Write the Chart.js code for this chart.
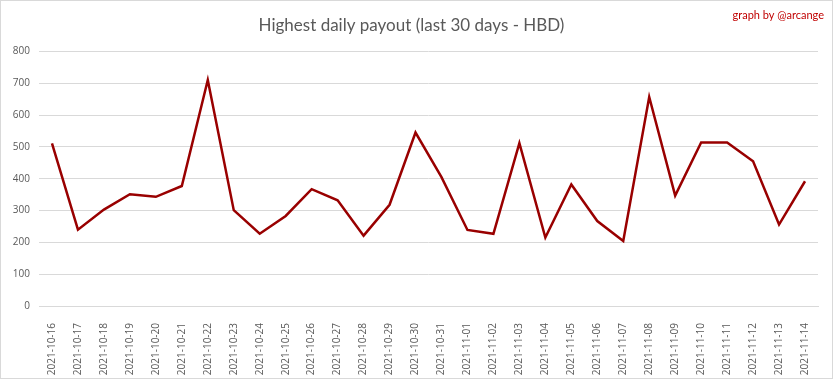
<!DOCTYPE html>
<html>
<head>
<meta charset="utf-8">
<script src="https://cdn.jsdelivr.net/npm/chart.js@4"></script>
<style>
  html, body { margin: 0; padding: 0; background: #fff; }
  #wrap { width: 833px; height: 379px; box-sizing: border-box; border: 1px solid #d9d9d9; position: relative; }
</style>
</head>
<body>
<div id="wrap"><canvas id="myChart"></canvas></div>
<script>
const dates = [
  "2021-10-16", "2021-10-17", "2021-10-18", "2021-10-19", "2021-10-20",
  "2021-10-21", "2021-10-22", "2021-10-23", "2021-10-24", "2021-10-25",
  "2021-10-26", "2021-10-27", "2021-10-28", "2021-10-29", "2021-10-30",
  "2021-10-31", "2021-11-01", "2021-11-02", "2021-11-03", "2021-11-04",
  "2021-11-05", "2021-11-06", "2021-11-07", "2021-11-08", "2021-11-09",
  "2021-11-10", "2021-11-11", "2021-11-12", "2021-11-13", "2021-11-14"
];
const payouts = [
  511, 240, 303, 351, 343, 377, 710, 301, 227, 283,
  367, 332, 221, 318, 545, 405, 239, 227, 512, 215,
  382, 267, 204, 657, 347, 514, 514, 455, 256, 392
];
const yTicks = [0, 100, 200, 300, 400, 500, 600, 700, 800];

// "graph by @arcange" in the top right corner
const signature = {
  id: "signature",
  afterDraw(chart) {
    const ctx = chart.ctx;
    ctx.save();
    ctx.font = "11px Lato, 'Open Sans', sans-serif";
    ctx.fillStyle = "#c00000";
    ctx.textAlign = "right";
    ctx.textBaseline = "middle";
    ctx.fillText("graph by @arcange", chart.width - 8, 14);
    ctx.restore();
  },
};

const ctx = document.getElementById("myChart").getContext("2d");
new Chart(ctx, {
  type: "line",
  data: {
    labels: dates,
    datasets: [
      {
        label: "Highest daily payout",
        data: payouts,
        borderColor: "#990000",
        backgroundColor: "#990000",
        borderWidth: 2.5,
        pointRadius: 0,
        tension: 0,
      },
    ],
  },
  options: {
    responsive: true,
    maintainAspectRatio: false,
    animation: false,
    layout: { padding: { left: 4, right: 14, top: 6, bottom: 3 } },
    scales: {
      x: {
        offset: true,
        grid: { display: false },
        border: { color: "#d9d9d9" },
        afterFit: (scale) => {
          scale.height = 69;
        },
        ticks: {
          color: "#595959",
          font: { family: "'Open Sans', sans-serif", size: 10 },
          minRotation: 90,
          maxRotation: 90,
          autoSkip: false,
          padding: 9,
        },
      },
      y: {
        min: 0,
        max: 800,
        afterBuildTicks: (scale) => {
          scale.ticks = yTicks.map((v) => ({ value: v }));
        },
        afterFit: (scale) => {
          scale.width = 34;
        },
        grid: { color: "#d9d9d9", drawTicks: false },
        border: { display: false },
        ticks: {
          color: "#595959",
          font: { family: "'Open Sans', sans-serif", size: 10 },
          padding: 9,
        },
      },
    },
    plugins: {
      legend: { display: false },
      tooltip: { enabled: false },
      title: {
        display: true,
        text: "Highest daily payout (last 30 days - HBD)",
        color: "#595959",
        font: { family: "Lato, 'Open Sans', sans-serif", size: 17, weight: "normal" },
        padding: { top: 8, bottom: 16 },
      },
    },
  },
  plugins: [signature],
});
</script>
</body>
</html>
